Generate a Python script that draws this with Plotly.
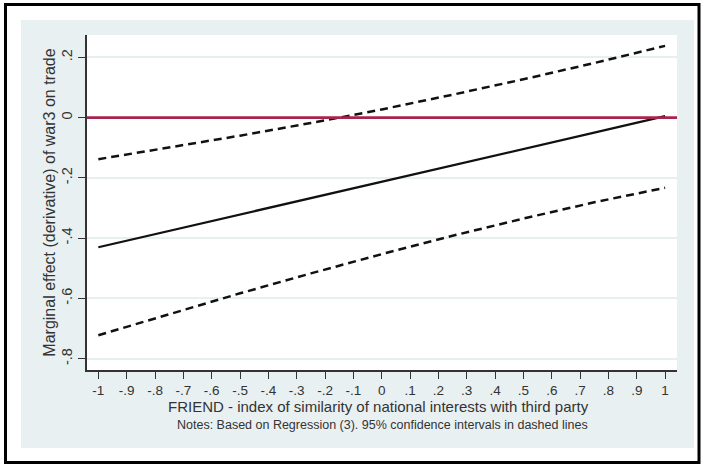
import plotly.graph_objects as go

# Data
friend = [-1.0, -0.75, -0.5, -0.25, 0.0, 0.25, 0.5, 0.75, 1.0]
marginal_effect = [-0.430, -0.376, -0.322, -0.267, -0.213, -0.158, -0.104, -0.050, 0.005]
ci_upper = [-0.138, -0.100, -0.060, -0.018, 0.027, 0.076, 0.127, 0.181, 0.238]
ci_lower = [-0.722, -0.652, -0.583, -0.517, -0.453, -0.392, -0.335, -0.281, -0.233]

x_tickvals = [-1, -0.9, -0.8, -0.7, -0.6, -0.5, -0.4, -0.3, -0.2, -0.1, 0,
              0.1, 0.2, 0.3, 0.4, 0.5, 0.6, 0.7, 0.8, 0.9, 1]
x_ticktext = ["-1", "-.9", "-.8", "-.7", "-.6", "-.5", "-.4", "-.3", "-.2", "-.1", "0",
              ".1", ".2", ".3", ".4", ".5", ".6", ".7", ".8", ".9", "1"]
y_tickvals = [0.2, 0, -0.2, -0.4, -0.6, -0.8]
y_ticktext = [".2", "0", "-.2", "-.4", "-.6", "-.8"]

x_title = "FRIEND - index of similarity of national interests with third party"
y_title = "Marginal effect (derivative) of war3 on trade"
note = "Notes: Based on Regression (3). 95% confidence intervals in dashed lines"

FONT = "Liberation Sans, Arial, sans-serif"
BLUISH = "#e8f0f2"
TXT = "#333333"

fig = go.Figure()
fig.add_trace(go.Scatter(x=friend, y=ci_upper, mode="lines",
                         line=dict(color="#111111", width=2.5, dash="8px,5px")))
fig.add_trace(go.Scatter(x=friend, y=marginal_effect, mode="lines",
                         line=dict(color="#111111", width=2.2)))
fig.add_trace(go.Scatter(x=friend, y=ci_lower, mode="lines",
                         line=dict(color="#111111", width=2.5, dash="8px,5px")))
fig.add_hline(y=0, line=dict(color="#a8244c", width=2.6))

L, R, T, B = 87, 27, 35, 96
W, H = 704, 466
pw, ph = W - L - R, H - T - B

def px(xp):
    return (xp - L) / pw

def py(yp):
    return (H - B - yp) / ph

# white bands outside the bluish graph region, then the black frame
white = dict(type="rect", xref="paper", yref="paper", fillcolor="white",
             line=dict(width=0), layer="above")
frame_shapes = [
    dict(white, x0=px(0), x1=px(21), y0=py(H), y1=py(0)),
    dict(white, x0=px(694), x1=px(W), y0=py(H), y1=py(0)),
    dict(white, x0=px(0), x1=px(W), y0=py(20), y1=py(0)),
    dict(white, x0=px(0), x1=px(W), y0=py(H), y1=py(448)),
    dict(type="rect", xref="paper", yref="paper",
         x0=px(5.5), x1=px(699), y0=py(462.5), y1=py(4.5),
         fillcolor="rgba(0,0,0,0)", line=dict(color="black", width=3), layer="above"),
]
for s in frame_shapes:
    fig.add_shape(**s)

fig.update_layout(
    width=W, height=H,
    margin=dict(l=L, r=R, t=T, b=B, pad=0, autoexpand=False),
    paper_bgcolor=BLUISH,
    plot_bgcolor="white",
    showlegend=False,
    font=dict(family=FONT, color=TXT, size=14),
    annotations=[
        dict(text=x_title, xref="paper", yref="paper", x=px(378), y=py(406),
             xanchor="center", yanchor="middle", showarrow=False,
             font=dict(family=FONT, size=15, color=TXT)),
        dict(text=note, xref="paper", yref="paper", x=px(382.5), y=py(424.5),
             xanchor="center", yanchor="middle", showarrow=False,
             font=dict(family=FONT, size=12.5, color=TXT)),
    ],
)

fig.update_xaxes(
    range=[-1.040, 1.042], automargin=False,
    tickmode="array", tickvals=x_tickvals, ticktext=x_ticktext,
    ticks="outside", ticklen=7, tickwidth=1.3, tickcolor=TXT,
    showline=True, linecolor=TXT, linewidth=1.5,
    showgrid=False, zeroline=False,
    tickfont=dict(family=FONT, size=13.5, color=TXT),
)
fig.update_yaxes(
    range=[-0.8374, 0.274], automargin=False,
    tickmode="array", tickvals=y_tickvals, ticktext=y_ticktext,
    tickangle=-90,
    ticks="outside", ticklen=7, tickwidth=1.3, tickcolor=TXT,
    showline=True, linecolor=TXT, linewidth=1.5,
    showgrid=True, gridcolor="#e8eff1", gridwidth=1.5,
    zeroline=False,
    tickfont=dict(family=FONT, size=14.5, color=TXT),
    title=dict(text=y_title, font=dict(family=FONT, size=16, color=TXT), standoff=0),
)

fig.write_html("out.html", config={"displayModeBar": False},
               post_script="document.body.style.margin='0px';")
